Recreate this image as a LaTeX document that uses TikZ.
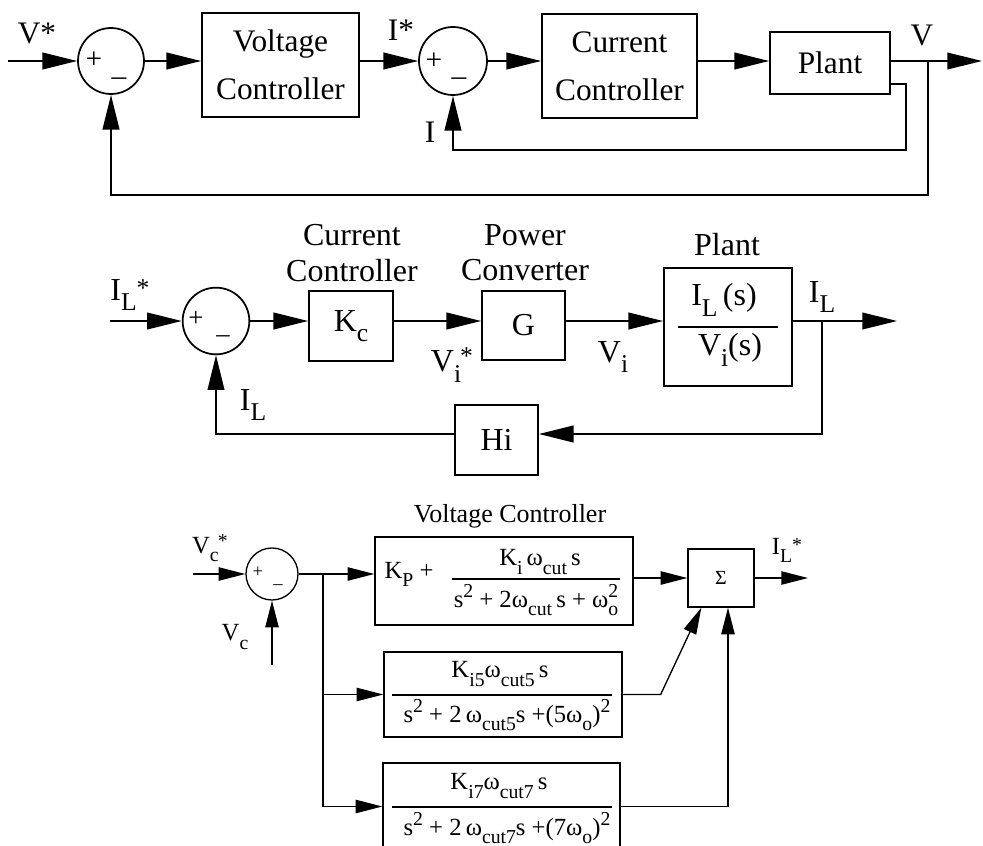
\documentclass[tikz,border=0pt]{standalone}
\usepackage{fontspec}
\setmainfont{Liberation Serif}
\usetikzlibrary{arrows.meta,calc}
\makeatletter
\newcommand\smf{\fontsize{\strip@pt\dimexpr0.8\dimexpr\f@size pt\relax\relax}{1}\selectfont}
\newcommand\sbs[1]{\raisebox{-0.33em}{\smf#1}}
\newcommand\sps[1]{\raisebox{0.42em}{\smf#1}}
\newcommand\sbsp[2]{\makebox[0pt][l]{\sbs{#1}}\sps{#2}}
\newcommand\sbst[1]{\sbs{#1}\kern-0.03em\raisebox{0.22em}{\smf *}}
\newcommand\sbstr[1]{\sbs{#1}\raisebox{0.12em}{\smf *}}
\makeatother
\begin{document}
\begin{tikzpicture}[x=0.75pt,y=-0.75pt,
  conn/.style={line width=1.3pt},
  connB/.style={line width=1pt},
  arrT/.style={line width=1.3pt,-{Triangle[length=26pt,width=12.5pt]}},
  arrB/.style={line width=1pt,-{Triangle[length=20pt,width=10pt]}},
  blk/.style={draw,line width=1.3pt,inner sep=0pt,align=center},
  blkB/.style={draw,line width=1pt,inner sep=0pt},
  sumc/.style={draw,circle,line width=1.3pt,inner sep=0pt},
  fT/.style={font=\fontsize{23.5}{36}\selectfont},
  fM/.style={font=\fontsize{24}{26.5}\selectfont},
  fB/.style={font=\fontsize{18.5}{20}\selectfont},
  fL/.style={font=\fontsize{19.5}{22}\selectfont},
  fBL/.style={font=\fontsize{18.5}{20}\selectfont},
  sgn/.style={inner sep=0pt}
]
\useasboundingbox (0,0) rectangle (983,846);

% ---------------- top diagram ----------------
\node[sumc,minimum size=49.5pt] (s1) at (111,61) {};
\node[blk,fT,minimum width=117.75pt,minimum height=78pt] (vc) at (280.5,65) {Voltage\\Controller};
\node[sumc,minimum size=51pt] (s2) at (453,61) {};
\node[blk,fT,minimum width=116.25pt,minimum height=78pt] (cc) at (619.5,66) {Current\\Controller};
\node[blk,fT,minimum width=90pt,minimum height=46.5pt] (pl) at (830,63) {Plant};
\coordinate (in1) at (8,61);
\coordinate (out1) at (982,61);
\coordinate (b1) at (928,61);
\coordinate (fb1) at (111,195);
\coordinate (po2) at ($(pl.south east)+(0,-11)$);
\coordinate (fb2) at (906,150);

\draw[arrT] (in1) -- (s1.west);
\draw[arrT] (s1.east) -- (s1.east -| vc.west);
\draw[arrT] (s2.west -| vc.east) -- (s2.west);
\draw[arrT] (s2.east) -- (s2.east -| cc.west);
\draw[arrT] (s2.east -| cc.east) -- (s2.east -| pl.west);
\draw[arrT] (s2.east -| pl.east) -- (out1);
\draw[arrT] (b1) |- (fb1) -- (s1.south);
\draw[arrT] (po2) -| (fb2) -- (fb2 -| s2) -- (s2.south);

\node[fT] (lVs) at (37,33) {V*};
\node[fT] (lIs) at (401,30) {I*};
\node[fT] (lV) at (922,35) {V};
\node[fT] (lI) at (430,132) {I};
\node[sgn,font=\fontsize{22}{22}\selectfont] (p1) at (94,60) {+};
\node[sgn,font=\fontsize{22}{22}\selectfont] (m1) at (119,82) {–};
\node[sgn,font=\fontsize{22}{22}\selectfont] (p2) at (434,61) {+};
\node[sgn,font=\fontsize{22}{22}\selectfont] (m2) at (459,82) {–};

% ---------------- middle diagram ----------------
\node[sumc,minimum size=50pt] (s3) at (216,321) {};
\node[blk,fM,minimum width=63pt,minimum height=52.5pt] (kc) at (351,326) {K\sbs{c}};
\node[blk,fM,minimum width=62.25pt,minimum height=51.75pt] (g) at (523.5,325.5) {G};
\node[blk,minimum width=96pt,minimum height=88.5pt] (pl2) at (728,327) {};
\node[fM] (num2) at (724,300) {I\sbs{L}\,(s)};
\draw[conn] (678,327) -- (778,327);
\node[fM] (den2) at (730,350) {V\sbs{i}(s)};
\node[blk,fM,minimum width=62.25pt,minimum height=52.5pt] (hi) at (496.5,440) {Hi};
\coordinate (in2) at (110,321);
\coordinate (out2) at (897,321);
\coordinate (b2) at (822,321);
\coordinate (fb3) at (822,434);

\draw[arrT] (in2) -- (s3.west);
\draw[arrT] (s3.east) -- (s3.east -| kc.west);
\draw[arrT] (s3.east -| kc.east) -- (s3.east -| g.west);
\draw[arrT] (s3.east -| g.east) -- (s3.east -| pl2.west);
\draw[arrT] (s3.east -| pl2.east) -- (out2);
\draw[arrT] (b2) -- (fb3) -- (fb3 -| hi.east);
\draw[arrT] (fb3 -| hi.west) -| (s3.south);

\node[fM,align=center] (lcc) at (352,253) {Current\\Controller};
\node[fM,align=center] (lpc) at (525,253) {Power\\Converter};
\node[fM] (lpl) at (727,245) {Plant};
\node[fM] (lIL1) at (130,295) {I\sbstr{L}};
\node[fM] (lVi1) at (452,365) {V\sbst{i}};
\node[fM] (lVi2) at (613,357) {V\sbs{i}};
\node[fM] (lIL2) at (822,297) {I\sbs{L}};
\node[fM] (lIL3) at (253,405) {I\sbs{L}};
\node[sgn,font=\fontsize{20}{20}\selectfont] (p3) at (196,319) {+};
\node[sgn,font=\fontsize{20}{20}\selectfont] (m3) at (223,339) {–};

% ---------------- bottom diagram ----------------
\node[sumc,line width=1pt,minimum size=39pt] (s4) at (272,574) {};
\node[blkB,minimum width=193.5pt,minimum height=66pt] (bx1) at (504,581) {};
\node[blkB,minimum width=178.5pt,minimum height=63.75pt] (bx2) at (503,694.5) {};
\node[blkB,minimum width=177.75pt,minimum height=65.25pt] (bx3) at (501.5,806.5) {};
\node[blkB,minimum width=49.5pt,minimum height=43.5pt,font=\fontsize{15}{15}\selectfont] (sig) at (721,578) {Σ};
\coordinate (in3) at (193,574);
\coordinate (vcin) at (272,665);
\coordinate (b3) at (323,574);
\coordinate (out3) at (808,578);

\draw[arrB] (in3) -- (s4.west);
\draw[arrB] (vcin) -- (s4.south);
\draw[arrB] (s4.east) -- (s4.east -| bx1.west);
\draw[connB] (b3) -- (b3 |- bx3.west);
\draw[arrB] (b3 |- bx2.west) -- (bx2.west);
\draw[arrB] (b3 |- bx3.west) -- (bx3.west);
\draw[arrB] (sig.west -| bx1.east) -- (sig.west);
\draw[arrB] (sig.east) -- (out3);
\draw[arrB] (bx2.east) -- ++(38,0) -- ($(sig.south west)+(14,0)$);
\draw[arrB] (bx3.east) -| ($(sig.south)+(7,0)$);

\node[fL] (lvcb) at (510,516) {Voltage Controller};
\node[fBL] (lVc1) at (210,548) {V\sbst{c}};
\node[fBL] (lVc2) at (235,637) {V\sbs{c}};
\node[fBL] (lIL4) at (787,550) {I\sbstr{L}};
\node[sgn,font=\fontsize{14}{14}\selectfont] (p4) at (258,572) {+};
\node[sgn,font=\fontsize{14}{14}\selectfont] (m4) at (278,587) {–};

\node[fB] (kp) at (409,574) {K\sbs{P} +};
\node[fB] (n1) at (540,562) {K\sbs{i}\,ω\sbs{cut}\,s};
\draw[connB] (452,579) -- (620,579);
\node[fB] (d1) at (536,600) {s\sps{2} + 2ω\sbs{cut}\,s + ω\sbsp{o}{2}};

\node[fB] (n2) at (500,674) {K\sbs{i5}ω\sbs{cut5}\,s};
\draw[connB] (392,695) -- (612,695);
\node[fB] (d2) at (507,715) {s\sps{2} + 2\,ω\sbs{cut5}s +(5ω\sbs{o})\sps{2}};

\node[fB] (n3) at (499,786) {K\sbs{i7}ω\sbs{cut7}\,s};
\draw[connB] (392,807) -- (612,807);
\node[fB] (d3) at (507,828) {s\sps{2} + 2\,ω\sbs{cut7}s +(7ω\sbs{o})\sps{2}};
\end{tikzpicture}
\end{document}
